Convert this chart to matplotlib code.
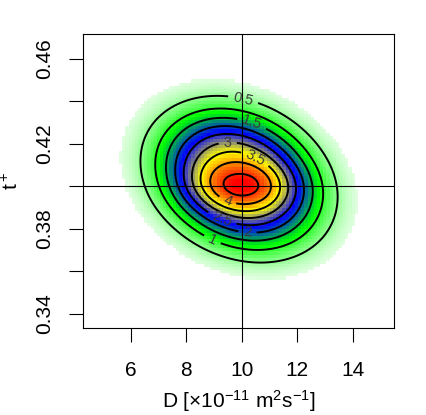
import numpy as np
import matplotlib.pyplot as plt
from matplotlib.colors import LinearSegmentedColormap

plt.rcParams['font.family'] = ['Liberation Sans', 'DejaVu Sans']
plt.rcParams['mathtext.fontset'] = 'custom'
plt.rcParams['mathtext.rm'] = 'Liberation Sans'
plt.rcParams['mathtext.it'] = 'Liberation Sans:italic'

# density: a broad tilted body plus a flat, wide core
body_h = 3.9
body_D, body_t = 9.9, 0.4033
body_wD, body_wt = 2.66, 0.0294
body_rho = -0.22
body_flat = 2.5

core_h = 0.85
core_D, core_t = 10.0, 0.3997
core_wD, core_wt = 1.15, 0.0075

cutoff = 0.15
top = 4.7

levels = [0.5, 1, 1.5, 2, 2.5, 3, 3.5, 4, 4.5]
# where each contour label sits (None = no label)
lab_pos = [(10.05, 0.4406), (8.97, 0.3757), (10.3, 0.427), (10.2, 0.376),
           (9.3, 0.385), (9.5, 0.4195), (10.5, 0.4134), (9.5, 0.3936), None]

xticks = [6, 8, 10, 12, 14]
yticks = [0.34, 0.36, 0.38, 0.40, 0.42, 0.44, 0.46]
ytick_labels = ['0.34', '', '0.38', '', '0.42', '', '0.46']

xlim = (4.28, 15.49)
ylim = (0.3333, 0.4716)


def dens(x, y):
    zx = (x - body_D) / body_wD
    zy = (y - body_t) / body_wt
    q = (zx**2 - 2*body_rho*zx*zy + zy**2) / (1 - body_rho**2)
    f = body_h * np.exp(-q**(body_flat / 2))
    f += core_h * np.exp(-0.5*(((x - core_D)/core_wD)**2 + ((y - core_t)/core_wt)**2))
    return f


cmap = LinearSegmentedColormap.from_list('gbyr', ['white', '#00ff00', '#0000ff', '#ffff00', '#ff0000'])

fig = plt.figure(figsize=(4.27, 4.15), dpi=100)
ax = fig.add_axes([0.1944, 0.2096, 0.7283, 0.7084])

# coarse raster for the fill (blocky edge like the original image)
gx = np.linspace(xlim[0], xlim[1], 100)
gy = np.linspace(ylim[0], ylim[1], 95)
GX, GY = np.meshgrid(gx, gy)
Zm = np.ma.masked_less(dens(GX, GY), cutoff)
ax.pcolormesh(GX, GY, Zm, cmap=cmap, vmin=0, vmax=top, shading='nearest')

fx = np.linspace(xlim[0], xlim[1], 400)
fy = np.linspace(ylim[0], ylim[1], 400)
FX, FY = np.meshgrid(fx, fy)
FZ = dens(FX, FY)
for lv, pos in zip(levels, lab_pos):
    cs = ax.contour(FX, FY, FZ, levels=[lv], colors='black', linewidths=1.4)
    if pos is not None:
        ax.clabel(cs, inline=True, fontsize=10.5, colors='#3a3a3a', fmt='%g', manual=[pos])

ax.axvline(10, color='black', lw=0.8)
ax.axhline(0.40, color='black', lw=0.8)

ax.set_xlim(xlim)
ax.set_ylim(ylim)
ax.set_xticks(xticks)
ax.set_yticks(yticks)
ax.set_yticklabels(ytick_labels, rotation=90, va='center')
ax.tick_params(labelsize=15, length=10, width=0.8)
ax.tick_params(axis='x', pad=14)
ax.tick_params(axis='y', pad=11)
for s in ax.spines.values():
    s.set_linewidth(0.8)

ax.set_xlabel(r'D [$\mathregular{\times}$10$^{\mathregular{-11}}$ m$^{\mathregular{2}}$s$^{\mathregular{-1}}$]', fontsize=15)
ax.set_ylabel(r'$\mathregular{t^+}$', fontsize=15)
ax.xaxis.set_label_coords(0.5, -0.205)
ax.yaxis.set_label_coords(-0.197, 0.5)

plt.savefig('out.png', dpi=100)
